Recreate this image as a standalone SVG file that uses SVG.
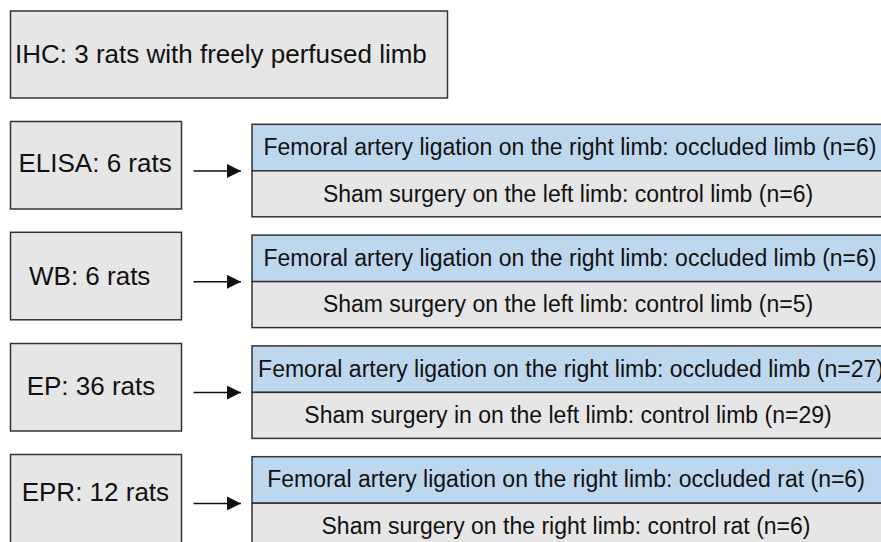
<svg xmlns="http://www.w3.org/2000/svg" width="881" height="542" viewBox="0 0 881 542">
<style>
.box{fill:#e6e6e6;stroke:#333;stroke-width:1.5}
.blue{fill:#bdd7ee;stroke:#333;stroke-width:1.5}
.big{font-family:"Liberation Sans",Arial,sans-serif;font-size:26px;fill:#111}
.small{font-family:"Liberation Sans",Arial,sans-serif;font-size:23px;fill:#111;text-anchor:middle}
.conn{stroke:#111;stroke-width:1.5;fill:none}
</style>
<defs>
<marker id="ah" viewBox="0 0 14 14" refX="14" refY="7" markerWidth="14" markerHeight="14" markerUnits="userSpaceOnUse" orient="auto">
<path d="M0,0 L14,7 L0,14 Z" fill="#111"/>
</marker>
</defs>
<rect width="881" height="542" fill="#fff"/>
<g id="ihc">
<rect class="box" x="10.5" y="11" width="437" height="87"/>
<text class="big" x="15" y="63">IHC: 3 rats with freely perfused limb</text>
</g>
<g id="elisa">
<rect class="box" x="10.5" y="121.5" width="171" height="87.5"/>
<text class="big" x="18.5" y="172">ELISA: 6 rats</text>
</g>
<g id="elisa-groups">
<rect class="blue" x="252" y="124.3" width="640" height="46.5"/>
<rect class="box" x="252" y="170.8" width="640" height="46"/>
<text class="small" x="570" y="155">Femoral artery ligation on the right limb: occluded limb (n=6)</text>
<text class="small" x="568" y="201.5">Sham surgery on the left limb: control limb (n=6)</text>
</g>
<g id="wb">
<rect class="box" x="10.5" y="232.3" width="171" height="87.5"/>
<text class="big" x="29" y="284.5">WB: 6 rats</text>
</g>
<g id="wb-groups">
<rect class="blue" x="252" y="235.1" width="640" height="46.5"/>
<rect class="box" x="252" y="281.6" width="640" height="46"/>
<text class="small" x="570" y="265.8">Femoral artery ligation on the right limb: occluded limb (n=6)</text>
<text class="small" x="568" y="312.3">Sham surgery on the left limb: control limb (n=5)</text>
</g>
<g id="ep">
<rect class="box" x="10.5" y="343.5" width="171" height="87.5"/>
<text class="big" x="26.7" y="395">EP: 36 rats</text>
</g>
<g id="ep-groups">
<rect class="blue" x="252" y="345.9" width="640" height="46.5"/>
<rect class="box" x="252" y="392.4" width="640" height="46"/>
<text class="small" x="571" y="376.6">Femoral artery ligation on the right limb: occluded limb (n=27)</text>
<text class="small" x="568" y="423.1">Sham surgery in on the left limb: control limb (n=29)</text>
</g>
<g id="epr">
<rect class="box" x="10.5" y="454.5" width="171" height="100"/>
<text class="big" x="21.7" y="501">EPR: 12 rats</text>
</g>
<g id="epr-groups">
<rect class="blue" x="252" y="456.7" width="640" height="46.5"/>
<rect class="box" x="252" y="503.2" width="640" height="60"/>
<text class="small" x="566" y="487.4">Femoral artery ligation on the right limb: occluded rat (n=6)</text>
<text class="small" x="566" y="533.9">Sham surgery on the right limb: control rat (n=6)</text>
</g>
<g id="connectors">
<line class="conn" x1="193.5" y1="171" x2="241" y2="171" marker-end="url(#ah)"/>
<line class="conn" x1="193.5" y1="281.8" x2="241" y2="281.8" marker-end="url(#ah)"/>
<line class="conn" x1="193.5" y1="392.6" x2="241" y2="392.6" marker-end="url(#ah)"/>
<line class="conn" x1="193.5" y1="503.4" x2="241" y2="503.4" marker-end="url(#ah)"/>
</g>
</svg>
